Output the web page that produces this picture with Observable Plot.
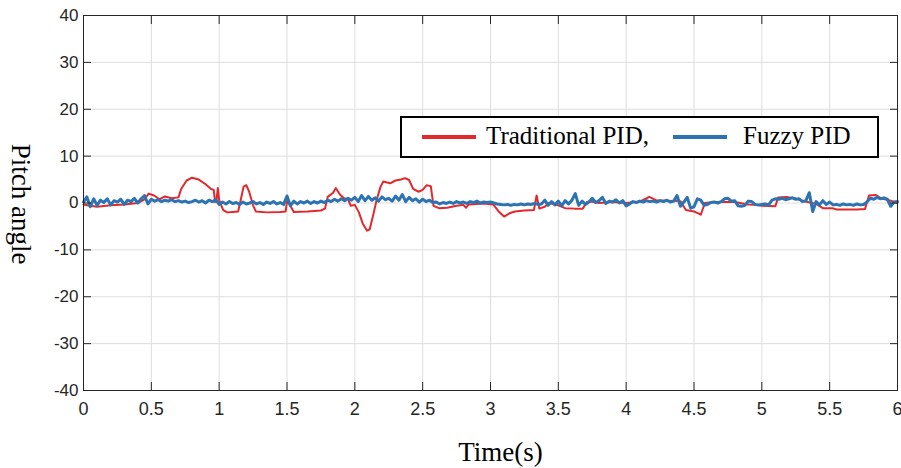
<!DOCTYPE html>
<html>
<head>
<meta charset="utf-8">
<script src="https://cdn.jsdelivr.net/npm/d3@7"></script>
<script src="https://cdn.jsdelivr.net/npm/@observablehq/plot@0.6"></script>
<style>
  body { margin: 0; background: #fff; }
  #wrap { position: relative; width: 901px; height: 468px; overflow: hidden; }
  #legend { position: absolute; left: 400px; top: 116px; width: 475px; height: 38px;
            border: 2px solid #000; background: #fff;
            font-family: "Liberation Serif", "Times New Roman", serif; font-size: 25px; color: #000; }
  .sw { position: absolute; top: 17px; width: 54px; height: 4px; }
  .lt { position: absolute; top: 3px; line-height: 30px; white-space: nowrap; }
</style>
</head>
<body>
<div id="wrap"></div>
<script>
// ---- data ----
const seriesNames = ["Traditional PID,", "Fuzzy PID"];
const seriesColors = ["#e3282c", "#2b73b3"];

const xTicks = [0, 0.5, 1, 1.5, 2, 2.5, 3, 3.5, 4, 4.5, 5, 5.5, 6];
const yTicks = [-40, -30, -20, -10, 0, 10, 20, 30, 40];

// Traditional PID (irregular sample times)
const redT = [0,0.05,0.1,0.2,0.3,0.4,0.45,0.48,0.52,0.56,0.6,0.65,0.7,0.72,0.76,0.8,0.85,0.9,0.94,0.96,0.97,0.98,0.99,1.0,1.03,1.06,1.1,1.14,1.16,1.18,1.2,1.22,1.25,1.27,1.35,1.45,1.49,1.5,1.52,1.55,1.65,1.75,1.78,1.8,1.84,1.86,1.89,1.92,1.95,1.97,2.0,2.03,2.06,2.09,2.11,2.14,2.16,2.19,2.21,2.26,2.3,2.34,2.37,2.4,2.43,2.47,2.5,2.53,2.56,2.58,2.62,2.68,2.75,2.8,2.82,2.84,2.95,3.02,3.06,3.1,3.14,3.18,3.25,3.32,3.34,3.36,3.4,3.43,3.5,3.55,3.62,3.68,3.71,3.74,3.8,3.9,4.0,4.1,4.17,4.22,4.3,4.4,4.44,4.5,4.55,4.58,4.65,4.8,4.9,4.95,5.0,5.1,5.12,5.18,5.24,5.3,5.4,5.45,5.52,5.55,5.7,5.76,5.79,5.84,5.88,5.95,6.0];
const redV = [-0.3,-0.6,-0.8,-0.5,-0.3,0.0,0.8,2.0,1.6,0.8,1.4,1.0,1.2,3.0,4.8,5.4,5.0,4.0,3.0,2.8,0.2,0.5,3.2,0.6,-1.5,-2.0,-1.9,-1.8,0.8,3.5,3.8,2.5,-0.5,-1.8,-2.0,-1.9,-1.8,0.3,-0.3,-1.9,-1.8,-1.6,-1.2,1.3,2.2,3.2,1.8,1.0,0.8,-0.6,-0.4,-2.0,-4.5,-5.9,-5.6,-2.0,0.6,3.5,4.6,4.2,4.8,5.0,5.3,4.9,3.0,2.4,2.8,3.8,3.6,-0.6,-1.1,-1.0,-0.6,-0.4,-1.0,-0.3,-0.1,-0.3,-1.8,-2.9,-2.2,-1.8,-1.6,-1.5,1.6,-1.2,-0.8,0.0,-0.5,-1.1,-1.2,-1.2,0.2,0.3,0.0,0.2,0.0,0.3,1.3,0.6,0.5,0.4,-1.5,-1.8,-2.5,0.0,0.2,0.2,-0.3,-0.4,-0.6,-0.7,1.2,1.3,1.0,0.5,-0.2,-1.1,-1.1,-1.4,-1.4,-1.3,1.6,1.7,1.0,0.5,0.0];

// Fuzzy PID (sampled every 0.025 s from 0 to 6 s)
const blueStart = 0, blueStep = 0.025;
const blueV = [
  0.2,1.3,-0.8,0.9,-0.5,0.6,0.1,0.9,-0.4,0.5, 0.2,0.8,-0.3,0.6,0.3,1.0,0.0,0.9,1.6,-0.2,
  0.8,0.4,0.7,0.3,0.6,0.4,0.7,0.3,0.5,0.2, 0.4,0.1,0.3,0.6,0.2,0.5,0.0,0.6,0.3,0.7,
  -0.3,0.2,-0.2,0.3,-0.1,0.1,-0.3,0.2,-0.2,0.0, 0.3,-0.2,0.1,-0.3,0.2,-0.1,0.3,-0.2,0.1,-0.3,
  1.5,-0.6,0.4,-0.2,0.3,0.0,0.4,-0.1,0.3,0.0, 0.4,0.1,0.6,0.3,0.8,0.4,0.9,0.5,1.0,0.6,
  1.2,0.3,1.6,0.5,1.4,0.6,1.1,0.4,1.3,0.7, 1.0,0.4,1.5,0.6,1.8,0.3,1.2,0.5,0.9,0.2,
  0.8,0.3,0.6,0.1,0.2,-0.2,0.1,-0.1,0.2,-0.1, 0.3,0.0,0.2,-0.1,0.3,0.1,0.4,0.0,0.2,0.1,
  0.2,0.0,-0.2,-0.3,-0.4,-0.3,-0.5,-0.3,-0.4,-0.2, -0.4,-0.2,-0.3,-0.1,-0.3,-0.2,0.6,-0.5,0.3,-0.4,
  0.4,-0.6,0.5,-0.2,0.6,2.0,-0.5,0.4,-0.3,0.2, 1.0,0.1,0.5,1.2,-0.1,0.4,0.2,0.7,0.0,0.5,
  -0.6,-0.2,0.3,0.1,0.4,0.2,0.5,0.3,0.4,0.2, 0.5,0.3,0.6,0.2,0.4,1.6,-0.7,0.2,1.2,-1.1,
  -0.8,0.9,0.6,-0.5,-0.3,0.1,0.2,0.0,0.3,0.9, 1.0,0.4,0.5,-0.6,-0.7,-0.5,0.4,0.3,-0.3,-0.4,
  -0.3,-0.2,-0.4,0.6,0.9,0.8,1.0,0.7,0.9,1.1, 0.8,0.9,0.3,0.5,2.2,-1.8,0.3,-0.4,0.5,-0.3,
  0.2,-0.4,-0.3,-0.5,-0.2,-0.4,-0.3,-0.5,-0.2,-0.4, -0.3,0.2,1.0,0.8,1.2,0.9,1.1,0.8,-0.7,0.2,
  0.3
];

// ---- build tables ----
const redData = redT.map((t, i) => ({t, v: redV[i]}));
const blueData = blueV.map((v, i) => ({t: blueStart + i * blueStep, v}));

const axisColor = "#262626";
const tickFont = "'Liberation Sans Narrow', 'Arial Narrow', 'Liberation Sans', Arial, sans-serif";
const serif = "'Liberation Serif', 'Times New Roman', serif";
const chart = Plot.plot({
  width: 901,
  height: 468,
  marginLeft: 83,
  marginRight: 4,
  marginTop: 15,
  marginBottom: 78,
  x: {domain: [0, 6]},
  y: {domain: [-40, 40]},
  style: {fontFamily: tickFont, background: "#fff", overflow: "visible"},
  marks: [
    Plot.gridX(xTicks, {stroke: "#dedede", strokeOpacity: 1}),
    Plot.gridY(yTicks, {stroke: "#dedede", strokeOpacity: 1}),
    Plot.line(redData, {x: "t", y: "v", stroke: seriesColors[0], strokeWidth: 2}),
    Plot.line(blueData, {x: "t", y: "v", stroke: seriesColors[1], strokeWidth: 3}),
    Plot.frame({stroke: axisColor, strokeWidth: 1}),
    // labels
    Plot.axisX(xTicks, {anchor: "bottom", tickSize: 0, tickPadding: 12, fontSize: 18, fill: axisColor, label: null, tickFormat: d => String(d)}),
    Plot.axisY(yTicks, {anchor: "left", tickSize: 0, tickPadding: 5, fontSize: 17, fill: axisColor, label: null, tickFormat: d => String(d)}),
    // inward ticks
    Plot.axisX(xTicks, {anchor: "bottom", tickSize: -8, fill: "none", stroke: axisColor, label: null}),
    Plot.axisX(xTicks, {anchor: "top", tickSize: -8, fill: "none", stroke: axisColor, label: null}),
    Plot.axisY(yTicks, {anchor: "left", tickSize: -8, fill: "none", stroke: axisColor, label: null}),
    Plot.axisY(yTicks, {anchor: "right", tickSize: -8, fill: "none", stroke: axisColor, label: null}),
    // axis titles
    Plot.text(["Time(s)"], {frameAnchor: "bottom", textAnchor: "middle", lineAnchor: "middle", dx: 10, dy: 62, fontFamily: serif, fontSize: 27, fill: "#000"}),
    Plot.text(["Pitch angle"], {frameAnchor: "left", textAnchor: "middle", lineAnchor: "middle", dx: -63, dy: 1, rotate: 90, fontFamily: serif, fontSize: 27, fill: "#000"})
  ]
});

const wrap = document.getElementById("wrap");
wrap.appendChild(chart);

// legend
const legend = document.createElement("div");
legend.id = "legend";
const swLeft = [20, 271];
const txLeft = [84, 341];
seriesNames.forEach((name, i) => {
  const sw = document.createElement("div");
  sw.className = "sw";
  sw.style.left = swLeft[i] + "px";
  sw.style.background = seriesColors[i];
  legend.appendChild(sw);
  const tx = document.createElement("span");
  tx.className = "lt";
  tx.style.left = txLeft[i] + "px";
  tx.textContent = name;
  legend.appendChild(tx);
});
wrap.appendChild(legend);
</script>
</body>
</html>
